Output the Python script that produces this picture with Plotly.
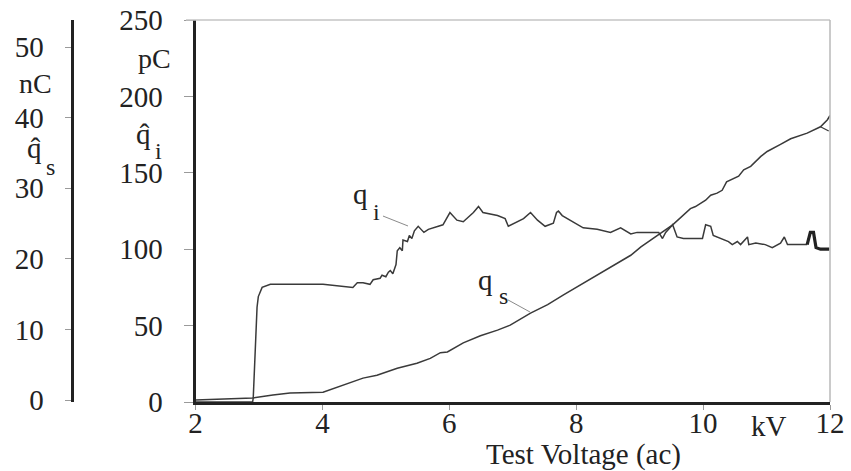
import plotly.graph_objects as go

# ---------------- data ----------------
# q_i : apparent charge (pC) vs test voltage (kV)
qi_kv = [2.0, 2.9, 2.91, 2.94, 2.97, 2.99, 3.05, 3.18, 3.49, 4.01, 4.48,
         4.55, 4.64, 4.75, 4.80, 4.91, 4.94, 5.00, 5.04, 5.07, 5.11, 5.16, 5.18,
         5.22, 5.26, 5.27, 5.34, 5.37, 5.41, 5.45, 5.51, 5.56, 5.60, 5.67, 5.81,
         5.90, 6.01, 6.12, 6.22, 6.38, 6.46, 6.53, 6.76, 6.88, 6.93, 7.07, 7.17,
         7.28, 7.39, 7.51, 7.64, 7.69, 7.72, 7.78, 7.91, 8.11, 8.33, 8.54, 8.70,
         8.86, 8.96, 9.06, 9.30, 9.36, 9.41, 9.52, 9.59, 9.69, 9.99, 10.04, 10.12,
         10.16, 10.40, 10.46, 10.54, 10.59, 10.70, 10.72, 10.83, 10.98, 11.09,
         11.22, 11.28, 11.33, 11.64]
qi_pc = [0, 0, 2.6, 34, 62, 69, 75, 77, 77, 77, 75,
         78, 78, 77, 80, 81, 83, 82, 85, 86, 84, 90, 99,
         101, 99, 106, 105, 109, 107, 112, 115, 113, 111, 113, 115,
         116, 124, 119, 118, 124, 128, 124, 122, 120, 115, 118, 120,
         124, 119, 115, 117, 124, 125, 122, 119, 114, 113, 111, 114,
         110, 111, 111, 111, 107, 111, 116, 108, 107, 107, 116, 115,
         109, 105, 103, 105, 103, 108, 103, 104, 103, 101,
         104, 108, 103, 103]
# last part of q_i (drawn heavier in the original)
qi_end_kv = [11.64, 11.69, 11.74, 11.78, 11.85, 11.99]
qi_end_pc = [103, 111, 111, 101, 100, 100]

# q_s : integrated charge (nC) vs test voltage (kV)
qs_kv = [2.0, 2.9, 3.22, 3.49, 4.01, 4.17, 4.39, 4.64, 4.86, 5.18, 5.49,
         5.70, 5.86, 5.97, 6.22, 6.49, 6.76, 6.96, 7.28, 7.55, 7.80, 8.07,
         8.34, 8.59, 8.86, 9.02, 9.30, 9.52, 9.80, 9.88, 10.04, 10.12, 10.22,
         10.30, 10.37, 10.46, 10.56, 10.64, 10.75, 10.91, 11.01, 11.22, 11.38,
         11.64, 11.85, 11.96, 12.0]
qs_nc = [0, 0.3, 0.7, 1.0, 1.1, 1.6, 2.4, 3.1, 3.5, 4.5, 5.2,
         5.9, 6.7, 6.8, 8.1, 9.1, 9.9, 10.6, 12.3, 13.5, 14.9, 16.3,
         17.7, 19.1, 20.5, 21.7, 23.5, 24.8, 27.1, 27.4, 28.3, 29.0, 29.3,
         29.7, 30.9, 31.3, 31.7, 32.6, 33.1, 34.5, 35.2, 36.2, 37.0,
         37.8, 38.7, 39.7, 40.3]
qs_fork_kv = [11.85, 11.98]
qs_fork_nc = [38.7, 38.1]

x_ticks = [2, 4, 6, 8, 10, 12]
pc_ticks = [0, 50, 100, 150, 200, 250]
nc_ticks = [0, 10, 20, 30, 40, 50]

# ---------------- layout geometry ----------------
W, H = 851, 471
ML, MR, MT, MB = 60, 21, 20, 69
PW = W - ML - MR           # paper width in px
PH = H - MT - MB           # paper height in px
X0 = 195.5                 # left edge of the plotting region (px)


def pp(px, py):
    """pixel -> paper coordinates"""
    return (px - ML) / PW, (H - MB - py) / PH


FONT = "Liberation Serif"
DARK = "#222222"
LINE = "#3a3a3a"

fig = go.Figure()

fig.add_trace(go.Scatter(x=qi_kv, y=qi_pc, mode="lines", yaxis="y",
                         line=dict(color=LINE, width=1.5), showlegend=False))
fig.add_trace(go.Scatter(x=qi_end_kv, y=qi_end_pc, mode="lines", yaxis="y",
                         line=dict(color="#222", width=3.2), showlegend=False))
fig.add_trace(go.Scatter(x=qs_kv, y=qs_nc, mode="lines", yaxis="y2",
                         line=dict(color=LINE, width=1.5), showlegend=False))
fig.add_trace(go.Scatter(x=qs_fork_kv, y=qs_fork_nc, mode="lines", yaxis="y2",
                         line=dict(color=LINE, width=1.3), showlegend=False))

x_dom0 = (X0 - ML) / PW
nc_px_per_unit = 7.06
nc_lo = -(H - MB - 400) / nc_px_per_unit
nc_hi = nc_lo + PH / nc_px_per_unit

fig.update_layout(
    template="none",
    width=W, height=H,
    margin=dict(l=ML, r=MR, t=MT, b=MB, pad=0, autoexpand=False),
    paper_bgcolor="white", plot_bgcolor="white",
    font=dict(family=FONT, size=29, color=DARK),
    xaxis=dict(domain=[x_dom0, 1], range=[2, 12], tickvals=x_ticks,
               automargin=False,
               showgrid=False, zeroline=False,
               showline=True, linecolor=DARK, linewidth=3,
               ticks="outside", ticklen=5, tickcolor="#9a9a9a", tickwidth=1,
               tickfont=dict(family=FONT, size=29, color=DARK),
               ticklabelstandoff=-12),
    yaxis=dict(range=[0, 250], tickvals=pc_ticks, automargin=False,
               showgrid=False, zeroline=False,
               showline=True, linecolor=DARK, linewidth=3,
               ticks="outside", ticklen=9, tickcolor="#9a9a9a", tickwidth=1,
               tickfont=dict(family=FONT, size=29, color=DARK),
               ticklabelstandoff=15),
    yaxis2=dict(range=[nc_lo, nc_hi], tickvals=nc_ticks, overlaying="y",
                anchor="free", position=(71.5 - ML) / PW, side="left",
                automargin=False,
                showgrid=False, zeroline=False,
                showline=True, linecolor=DARK, linewidth=3,
                ticks="outside", ticklen=6, tickcolor="#9a9a9a", tickwidth=1,
                tickfont=dict(family=FONT, size=29, color=DARK),
                ticklabelstandoff=15),
)

# light frame on top and right
fig.add_shape(type="line", xref="paper", yref="y domain",
              x0=pp(186, 0)[0], x1=1, y0=1, y1=1,
              line=dict(color="#c4c4c4", width=1.5))
fig.add_shape(type="line", xref="x domain", yref="y domain",
              x0=1, x1=1, y0=0, y1=1,
              line=dict(color="#b8b8b8", width=1.5))

# leader lines for curve labels
fig.add_shape(type="line", xref="x", yref="y", x0=4.955, y0=121.7, x1=5.349, y1=115.2,
              line=dict(color="#8a8a8a", width=1))
fig.add_shape(type="line", xref="x", yref="y", x0=6.925, y0=66.8, x1=7.272, y1=58.9,
              line=dict(color="#8a8a8a", width=1))


def txt(s, px, py, size=29, xa="center", ya="middle"):
    x, y = pp(px, py)
    fig.add_annotation(text=s, x=x, y=y, xref="paper", yref="paper",
                       xanchor=xa, yanchor=ya, showarrow=False,
                       font=dict(family=FONT, size=size, color=DARK))


# curve labels (main letter + subscript)
txt("q", 360, 194)
txt("i", 376, 212, size=24)
txt("q", 486, 280)
txt("s", 503, 296, size=24)

# axis unit labels
txt("kV", 769, 426)
txt("Test Voltage (ac)", 583, 454)
txt("pC", 154, 58, size=28)
txt("nC", 35, 84, size=28)
txt("q\u0302", 143, 134)
txt("i", 158, 151, size=24)
txt("q\u0302", 34, 148)
txt("s", 50, 167, size=24)

fig.write_html("out.html")
